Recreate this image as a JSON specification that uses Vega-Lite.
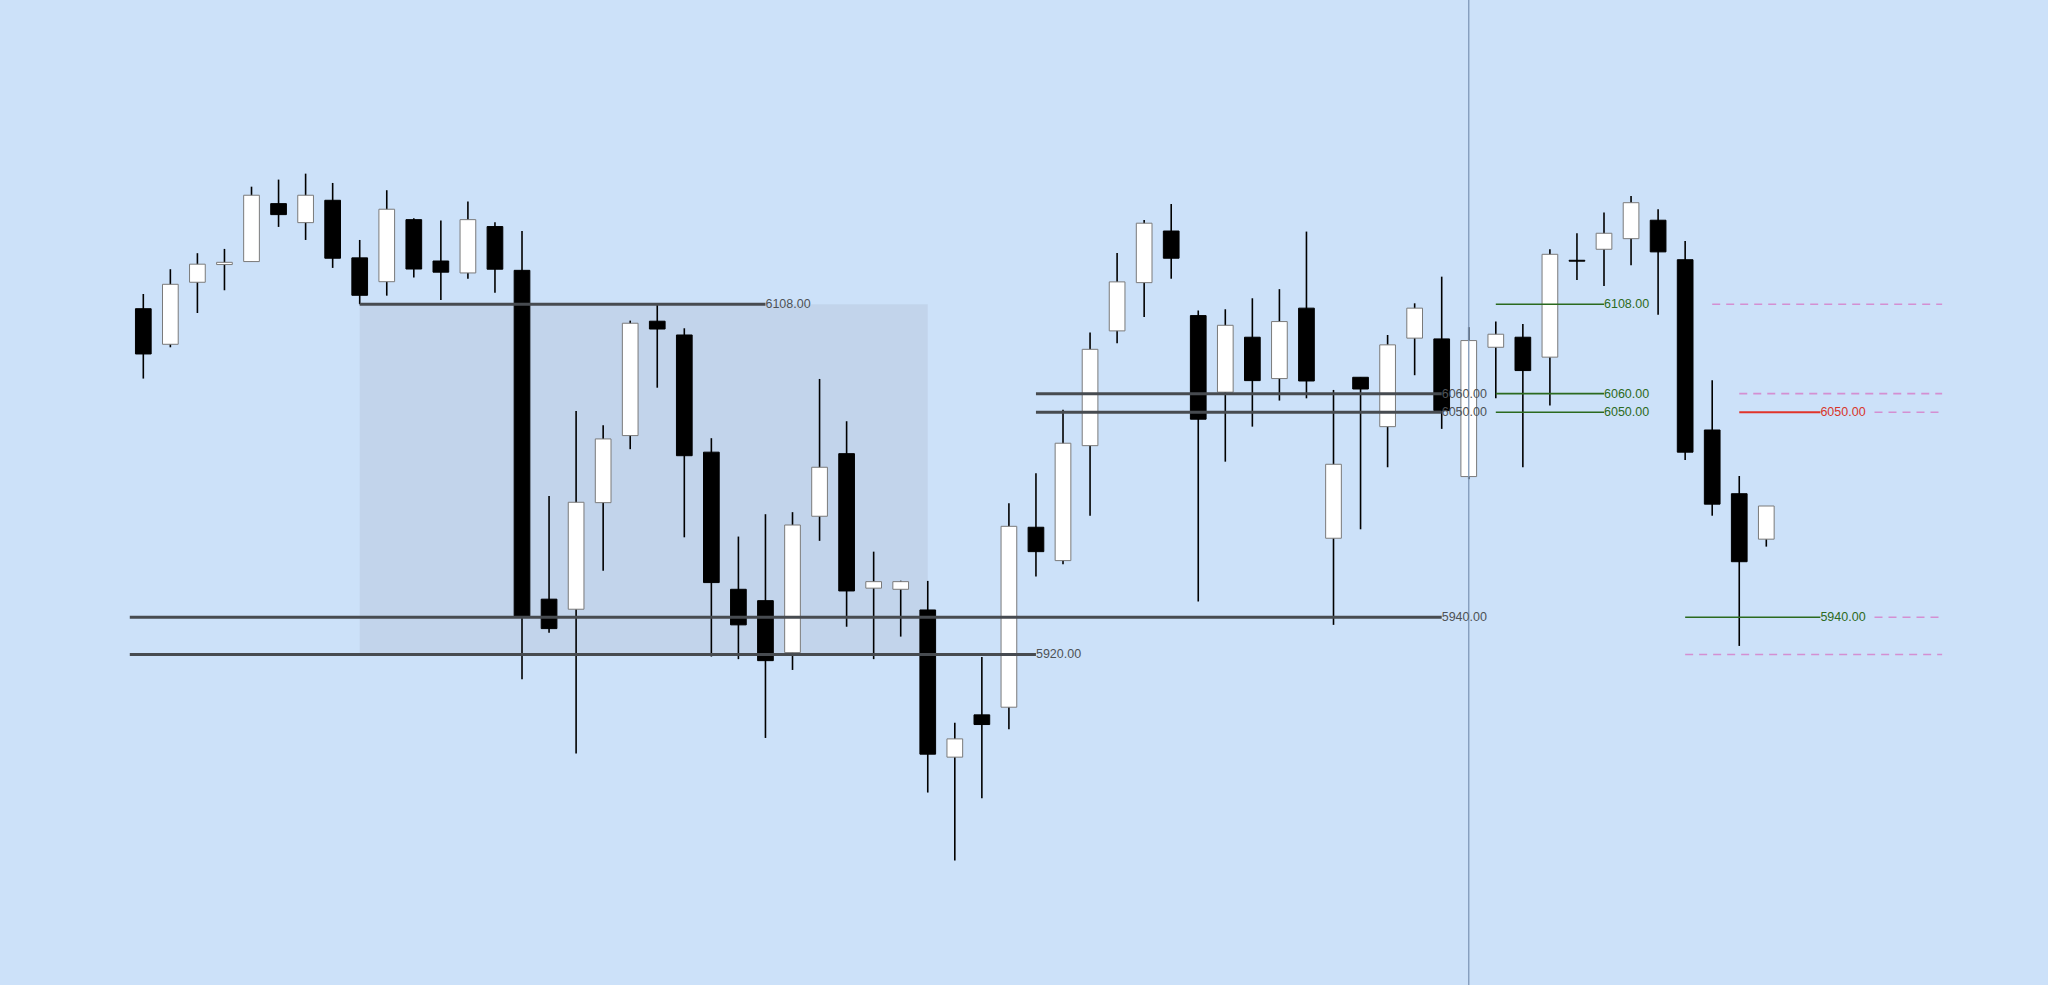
{
  "$schema": "https://vega.github.io/schema/vega-lite/v6.json",
  "width": 2048,
  "height": 985,
  "autosize": "none",
  "padding": 0,
  "background": "#cce1f9",
  "config": {"view": {"stroke": null}, "scale": {"continuousPadding": 0}},
  "datasets": {
    "candles": [
      {"i":0,"o":6105.6,"h":6113.5,"l":6068.1,"c":6081.3},
      {"i":1,"o":6086.5,"h":6126.8,"l":6084.9,"c":6118.7},
      {"i":2,"o":6119.8,"h":6135.4,"l":6103.3,"c":6129.5},
      {"i":3,"o":6129.3,"h":6137.7,"l":6115.5,"c":6130.5},
      {"i":4,"o":6130.9,"h":6171.1,"l":6130.9,"c":6166.5},
      {"i":5,"o":6162.0,"h":6174.9,"l":6149.5,"c":6156.1},
      {"i":6,"o":6151.8,"h":6178.1,"l":6142.5,"c":6166.5},
      {"i":7,"o":6163.8,"h":6173.1,"l":6127.5,"c":6132.7},
      {"i":8,"o":6132.9,"h":6142.5,"l":6108.0,"c":6112.8},
      {"i":9,"o":6120.1,"h":6169.2,"l":6112.6,"c":6159.0},
      {"i":10,"o":6153.4,"h":6154.2,"l":6122.3,"c":6126.9},
      {"i":11,"o":6131.2,"h":6152.9,"l":6110.3,"c":6125.2},
      {"i":12,"o":6124.8,"h":6163.1,"l":6121.7,"c":6153.4},
      {"i":13,"o":6149.7,"h":6152.0,"l":6114.1,"c":6126.8},
      {"i":14,"o":6126.2,"h":6147.3,"l":5906.7,"c":5940.7},
      {"i":15,"o":5949.7,"h":6005.1,"l":5931.7,"c":5933.9},
      {"i":16,"o":5944.3,"h":6050.7,"l":5866.8,"c":6001.7},
      {"i":17,"o":6001.5,"h":6043.1,"l":5965.0,"c":6035.7},
      {"i":18,"o":6037.5,"h":6099.2,"l":6030.2,"c":6097.8},
      {"i":19,"o":6098.9,"h":6107.6,"l":6063.2,"c":6094.7},
      {"i":20,"o":6091.5,"h":6095.1,"l":5982.9,"c":6026.7},
      {"i":21,"o":6028.6,"h":6036.1,"l":5918.9,"c":5958.6},
      {"i":22,"o":5955.0,"h":5983.3,"l":5917.5,"c":5935.9},
      {"i":23,"o":5948.9,"h":5995.3,"l":5875.2,"c":5916.7},
      {"i":24,"o":5921.0,"h":5996.4,"l":5911.7,"c":5989.5},
      {"i":25,"o":5994.2,"h":6067.9,"l":5981.0,"c":6020.5},
      {"i":26,"o":6027.8,"h":6045.2,"l":5934.9,"c":5954.1},
      {"i":27,"o":5955.6,"h":5975.2,"l":5917.5,"c":5959.1},
      {"i":28,"o":5955.0,"h":5959.6,"l":5929.6,"c":5959.1},
      {"i":29,"o":5943.9,"h":5959.5,"l":5845.9,"c":5866.5},
      {"i":30,"o":5864.9,"h":5883.4,"l":5809.4,"c":5874.7},
      {"i":31,"o":5887.6,"h":5918.7,"l":5842.9,"c":5882.4},
      {"i":32,"o":5891.7,"h":6001.2,"l":5879.9,"c":5988.8},
      {"i":33,"o":5988.3,"h":6017.3,"l":5961.8,"c":5975.2},
      {"i":34,"o":5970.4,"h":6051.3,"l":5968.4,"c":6033.4},
      {"i":35,"o":6032.1,"h":6092.8,"l":5994.5,"c":6083.8},
      {"i":36,"o":6093.7,"h":6135.5,"l":6087.1,"c":6120.0},
      {"i":37,"o":6119.6,"h":6153.2,"l":6101.2,"c":6151.5},
      {"i":38,"o":6147.3,"h":6161.8,"l":6121.7,"c":6132.7},
      {"i":39,"o":6101.9,"h":6104.6,"l":5948.4,"c":6046.3},
      {"i":40,"o":6060.8,"h":6105.3,"l":6023.5,"c":6096.7},
      {"i":41,"o":6090.3,"h":6111.2,"l":6042.3,"c":6067.0},
      {"i":42,"o":6068.1,"h":6116.1,"l":6056.3,"c":6098.7},
      {"i":43,"o":6105.9,"h":6147.0,"l":6057.5,"c":6066.8},
      {"i":44,"o":5982.4,"h":6062.0,"l":5935.9,"c":6022.1},
      {"i":45,"o":6068.8,"h":6068.8,"l":5987.2,"c":6062.5},
      {"i":46,"o":6042.3,"h":6091.5,"l":6020.5,"c":6086.2},
      {"i":47,"o":6089.8,"h":6108.5,"l":6069.9,"c":6105.9},
      {"i":48,"o":6089.4,"h":6122.8,"l":6041.1,"c":6050.9},
      {"i":49,"o":6015.5,"h":6095.7,"l":6014.1,"c":6088.5},
      {"i":50,"o":6084.9,"h":6098.7,"l":6057.5,"c":6091.9},
      {"i":51,"o":6090.3,"h":6097.4,"l":6020.5,"c":6072.4},
      {"i":52,"o":6079.6,"h":6137.5,"l":6053.6,"c":6134.8},
      {"i":53,"o":6131.6,"h":6146.1,"l":6121.0,"c":6131.1},
      {"i":54,"o":6137.5,"h":6157.2,"l":6117.8,"c":6146.1},
      {"i":55,"o":6143.2,"h":6166.1,"l":6128.9,"c":6162.5},
      {"i":56,"o":6153.1,"h":6159.0,"l":6102.4,"c":6136.1},
      {"i":57,"o":6131.9,"h":6142.0,"l":6024.4,"c":6028.6},
      {"i":58,"o":6040.5,"h":6067.2,"l":5994.5,"c":6000.7},
      {"i":59,"o":6006.3,"h":6015.8,"l":5924.6,"c":5969.8},
      {"i":60,"o":5981.9,"h":5999.7,"l":5977.9,"c":5999.7}
    ],
    "levels": [
      {"kind":"zone","y":6108,"x1":8,"x2":23,"label":"6108.00"},
      {"kind":"zone","y":5940,"x1":-0.5,"x2":48,"label":"5940.00"},
      {"kind":"zone","y":5920,"x1":-0.5,"x2":33,"label":"5920.00"},
      {"kind":"zone","y":6060,"x1":33,"x2":48,"label":"6060.00"},
      {"kind":"zone","y":6050,"x1":33,"x2":48,"label":"6050.00"},
      {"kind":"target","y":6108,"x1":50,"x2":54,"label":"6108.00"},
      {"kind":"target","y":6060,"x1":50,"x2":54,"label":"6060.00"},
      {"kind":"target","y":6050,"x1":50,"x2":54,"label":"6050.00"},
      {"kind":"target","y":5940,"x1":57,"x2":62,"label":"5940.00"},
      {"kind":"stop","y":6050,"x1":59,"x2":62,"label":"6050.00"},
      {"kind":"proj","y":6108,"x1":58,"x2":66.5,"label":""},
      {"kind":"proj","y":6060,"x1":59,"x2":66.5,"label":""},
      {"kind":"proj","y":6050,"x1":64,"x2":66.5,"label":""},
      {"kind":"proj","y":5940,"x1":64,"x2":66.5,"label":""},
      {"kind":"proj","y":5920,"x1":57,"x2":66.5,"label":""}
    ],
    "zones": [{"x1":8,"x2":29,"y1":5920,"y2":6108}],
    "marker": [{"i":49}]
  },
  "layer": [
    {
      "data": {"name": "zones"},
      "mark": {"type": "rect", "color": "#c2d4eb"},
      "encoding": {
        "x": {"field": "x1", "type": "quantitative", "scale": {"domain": [-5.298, 70.414], "nice": false, "zero": false, "padding": 0}, "axis": null},
        "x2": {"field": "x2"},
        "y": {"field": "y1", "type": "quantitative", "scale": {"domain": [5742.6, 6271.3], "nice": false, "zero": false, "padding": 0}, "axis": null},
        "y2": {"field": "y2"}
      }
    },
    {
      "data": {"name": "candles"},
      "mark": {"type": "rule", "color": "#000000", "strokeWidth": 1.6},
      "encoding": {
        "x": {"field": "i", "type": "quantitative", "scale": {"domain": [-5.298, 70.414], "nice": false, "zero": false, "padding": 0}, "axis": null},
        "y": {"field": "l", "type": "quantitative", "scale": {"domain": [5742.6, 6271.3], "nice": false, "zero": false, "padding": 0}, "axis": null},
        "y2": {"field": "h"}
      }
    },
    {
      "data": {"name": "candles"},
      "mark": {"type": "bar", "width": 15.7, "orient": "vertical", "strokeWidth": 1},
      "encoding": {
        "x": {"field": "i", "type": "quantitative", "scale": {"domain": [-5.298, 70.414], "nice": false, "zero": false, "padding": 0}, "axis": null},
        "y": {"field": "o", "type": "quantitative", "scale": {"domain": [5742.6, 6271.3], "nice": false, "zero": false, "padding": 0}, "axis": null},
        "y2": {"field": "c"},
        "fill": {"condition": {"test": "datum.o > datum.c", "value": "#000000"}, "value": "#ffffff"},
        "stroke": {"condition": {"test": "datum.o > datum.c", "value": "#000000"}, "value": "#7a7a7a"}
      }
    },
    {
      "data": {"name": "marker"},
      "mark": {"type": "rule", "color": "#7f98b8", "strokeWidth": 1.3},
      "encoding": {
        "x": {"field": "i", "type": "quantitative", "scale": {"domain": [-5.298, 70.414], "nice": false, "zero": false, "padding": 0}, "axis": null}
      }
    },
    {
      "data": {"name": "levels"},
      "transform": [{"filter": "datum.kind == 'proj'"}],
      "mark": {"type": "rule", "color": "#d48fd2", "strokeWidth": 1.6, "strokeDash": [8, 6]},
      "encoding": {
        "x": {"field": "x1", "type": "quantitative", "scale": {"domain": [-5.298, 70.414], "nice": false, "zero": false, "padding": 0}, "axis": null},
        "x2": {"field": "x2"},
        "y": {"field": "y", "type": "quantitative", "scale": {"domain": [5742.6, 6271.3], "nice": false, "zero": false, "padding": 0}, "axis": null}
      }
    },
    {
      "data": {"name": "levels"},
      "transform": [{"filter": "datum.kind == 'zone'"}],
      "mark": {"type": "rule", "color": "#474b50", "strokeWidth": 3},
      "encoding": {
        "x": {"field": "x1", "type": "quantitative", "scale": {"domain": [-5.298, 70.414], "nice": false, "zero": false, "padding": 0}, "axis": null},
        "x2": {"field": "x2"},
        "y": {"field": "y", "type": "quantitative", "scale": {"domain": [5742.6, 6271.3], "nice": false, "zero": false, "padding": 0}, "axis": null}
      }
    },
    {
      "data": {"name": "levels"},
      "transform": [{"filter": "datum.kind == 'target'"}],
      "mark": {"type": "rule", "color": "#2b6a1f", "strokeWidth": 1.6},
      "encoding": {
        "x": {"field": "x1", "type": "quantitative", "scale": {"domain": [-5.298, 70.414], "nice": false, "zero": false, "padding": 0}, "axis": null},
        "x2": {"field": "x2"},
        "y": {"field": "y", "type": "quantitative", "scale": {"domain": [5742.6, 6271.3], "nice": false, "zero": false, "padding": 0}, "axis": null}
      }
    },
    {
      "data": {"name": "levels"},
      "transform": [{"filter": "datum.kind == 'stop'"}],
      "mark": {"type": "rule", "color": "#e0332a", "strokeWidth": 2},
      "encoding": {
        "x": {"field": "x1", "type": "quantitative", "scale": {"domain": [-5.298, 70.414], "nice": false, "zero": false, "padding": 0}, "axis": null},
        "x2": {"field": "x2"},
        "y": {"field": "y", "type": "quantitative", "scale": {"domain": [5742.6, 6271.3], "nice": false, "zero": false, "padding": 0}, "axis": null}
      }
    },
    {
      "data": {"name": "levels"},
      "transform": [{"filter": "datum.kind != 'proj'"}],
      "mark": {"type": "text", "align": "left", "baseline": "middle", "font": "Liberation Sans", "fontSize": 12.5, "dx": 0},
      "encoding": {
        "x": {"field": "x2", "type": "quantitative", "scale": {"domain": [-5.298, 70.414], "nice": false, "zero": false, "padding": 0}, "axis": null},
        "y": {"field": "y", "type": "quantitative", "scale": {"domain": [5742.6, 6271.3], "nice": false, "zero": false, "padding": 0}, "axis": null},
        "text": {"field": "label"},
        "color": {
          "field": "kind",
          "type": "nominal",
          "scale": {"domain": ["zone", "target", "stop"], "range": ["#4e5256", "#2d6a22", "#d8352a"]},
          "legend": null
        }
      }
    }
  ]
}
